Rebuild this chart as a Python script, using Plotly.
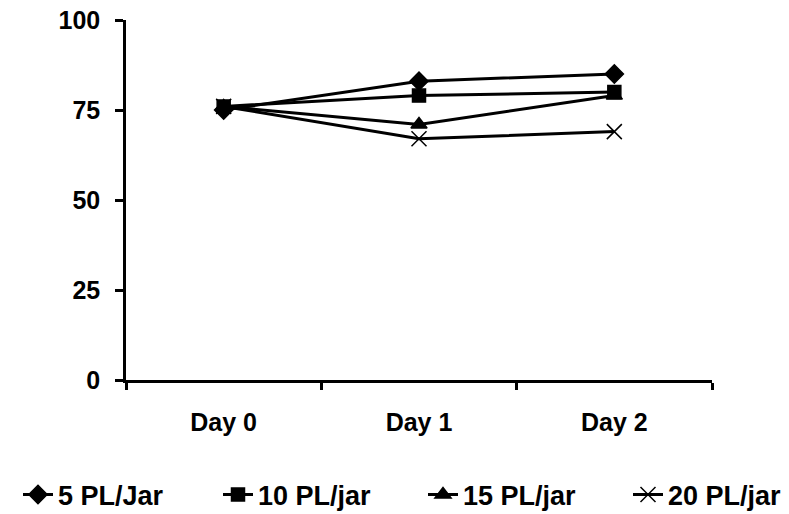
import plotly.graph_objects as go

# Survival (%) per stocking density over three days
days = ["Day 0", "Day 1", "Day 2"]
pl5 = [75, 83, 85]
pl10 = [76, 79, 80]
pl15 = [76, 71, 79]
pl20 = [76, 67, 69]

series = [
    ("5 PL/Jar", pl5, "diamond", 14),
    ("10 PL/jar", pl10, "square", 13),
    ("15 PL/jar", pl15, "triangle-up", 14),
    ("20 PL/jar", pl20, "x-thin", 15),
]

# left edge (px) of each legend entry along the bottom row
legend_left_px = [18, 218, 423, 628]

FONT = "Liberation Sans, Arial, sans-serif"
TICKFONT = dict(family=FONT, size=25, color="black", weight="bold")
LEGFONT = dict(family=FONT, size=27, color="black", weight="bold")

W, H = 789, 514
fig = go.Figure()
layout_legends = {}
for i, (name, vals, sym, sz) in enumerate(series):
    key = "legend" if i == 0 else f"legend{i + 1}"
    fig.add_trace(go.Scatter(
        x=days, y=vals, name=name, mode="lines+markers",
        line=dict(color="black", width=3),
        marker=dict(symbol=sym, size=sz, color="black",
                    line=dict(color="black", width=1.5)),
        legend=key,
    ))
    layout_legends[key] = dict(
        orientation="h", xref="container", yref="container",
        x=legend_left_px[i] / W, xanchor="left",
        y=0.037, yanchor="middle",
        font=LEGFONT, bgcolor="rgba(0,0,0,0)",
    )

fig.update_layout(
    width=W, height=H,
    margin=dict(l=126, r=77, t=20, b=134),
    paper_bgcolor="white", plot_bgcolor="white",
    font=TICKFONT,
    showlegend=True,
    **layout_legends,
)
fig.update_xaxes(
    type="category", range=[-0.5, 2.5], automargin=False,
    showline=True, linecolor="black", linewidth=2.5,
    ticks="outside", tickson="boundaries", ticklen=7, tickwidth=2.5, tickcolor="black",
    showgrid=False, zeroline=False,
    tickfont=TICKFONT,
    ticklabelstandoff=18,
)
fig.update_yaxes(
    range=[0, 100], tickvals=[0, 25, 50, 75, 100], automargin=False,
    showline=True, linecolor="black", linewidth=2.5,
    ticks="outside", ticklen=8, tickwidth=2.5, tickcolor="black",
    showgrid=False, zeroline=False,
    tickfont=TICKFONT,
    ticklabelstandoff=10,
)

fig.write_html("out.html")
